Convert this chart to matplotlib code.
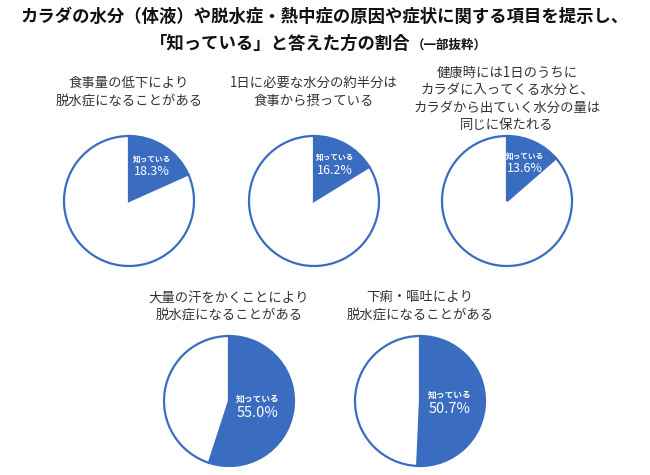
import numpy as np
import matplotlib.pyplot as plt

plt.rcParams['font.family'] = ['Noto Sans CJK JP', 'DejaVu Sans']

# survey items and share answering "知っている" (%)
items = [
    "食事量の低下により\n脱水症になることがある",
    "1日に必要な水分の約半分は\n食事から摂っている",
    "健康時には1日のうちに\nカラダに入ってくる水分と、\nカラダから出ていく水分の量は\n同じに保たれる",
    "大量の汗をかくことにより\n脱水症になることがある",
    "下痢・嘔吐により\n脱水症になることがある",
]
known_pct = [18.3, 16.2, 13.6, 55.0, 50.7]
known_label = "知っている"

# layout in figure pixels (y measured from top)
W, H = 650, 475
centers = [(129, 201), (314, 201), (507, 201), (229, 401), (420, 401)]
title_y = [92, 92, 99, 306, 306]
radius = 65
pct_size = [9, 9, 9, 10.5, 10.5]
lab_size = [5.5, 5.5, 5.5, 6.3, 6.3]

blue = '#3A6CC0'

fig = plt.figure(figsize=(6.5, 4.75), dpi=100)
ax = fig.add_axes([0, 0, 1, 1])

for i, (item, pct) in enumerate(zip(items, known_pct)):
    cx, cy = centers[i]
    cy = H - cy
    ax.pie([pct, 100 - pct], center=(cx, cy), radius=radius, startangle=90,
           counterclock=False, colors=[blue, 'white'],
           wedgeprops=dict(edgecolor=blue, linewidth=1.6))
    mid = np.deg2rad(90 - pct / 100 * 180)
    dist = 0.66 * radius if pct < 30 else 0.45 * radius
    tx = cx + dist * np.cos(mid)
    ty = cy + dist * np.sin(mid)
    ax.text(tx, ty + 6, known_label, color='white', fontsize=lab_size[i],
            fontweight='bold', ha='center', va='center')
    ax.text(tx, ty - 7, f"{pct:.1f}%", color='white', fontsize=pct_size[i],
            ha='center', va='center')
    ax.text(centers[i][0], H - title_y[i], item, fontsize=9.6, color='#333333',
            ha='center', va='center', linespacing=1.3)

# main title
fig.text(0.5, 1 - 17 / H,
         "カラダの水分（体液）や脱水症・熱中症の原因や症状に関する項目を提示し、",
         ha='center', va='center', fontsize=12.5, fontweight='bold', color='#111111')
fig.text(0.5 - 45 / W, 1 - 44 / H, "「知っている」と答えた方の割合",
         ha='center', va='center', fontsize=12.5, fontweight='bold', color='#111111')
fig.text(0.5 + 87 / W, 1 - 45 / H, "（一部抜粋）",
         ha='left', va='center', fontsize=9, fontweight='bold', color='#111111')

ax.set_xlim(0, W)
ax.set_ylim(0, H)
ax.set_aspect('equal')
ax.axis('off')

fig.savefig('out.png', dpi=100)
